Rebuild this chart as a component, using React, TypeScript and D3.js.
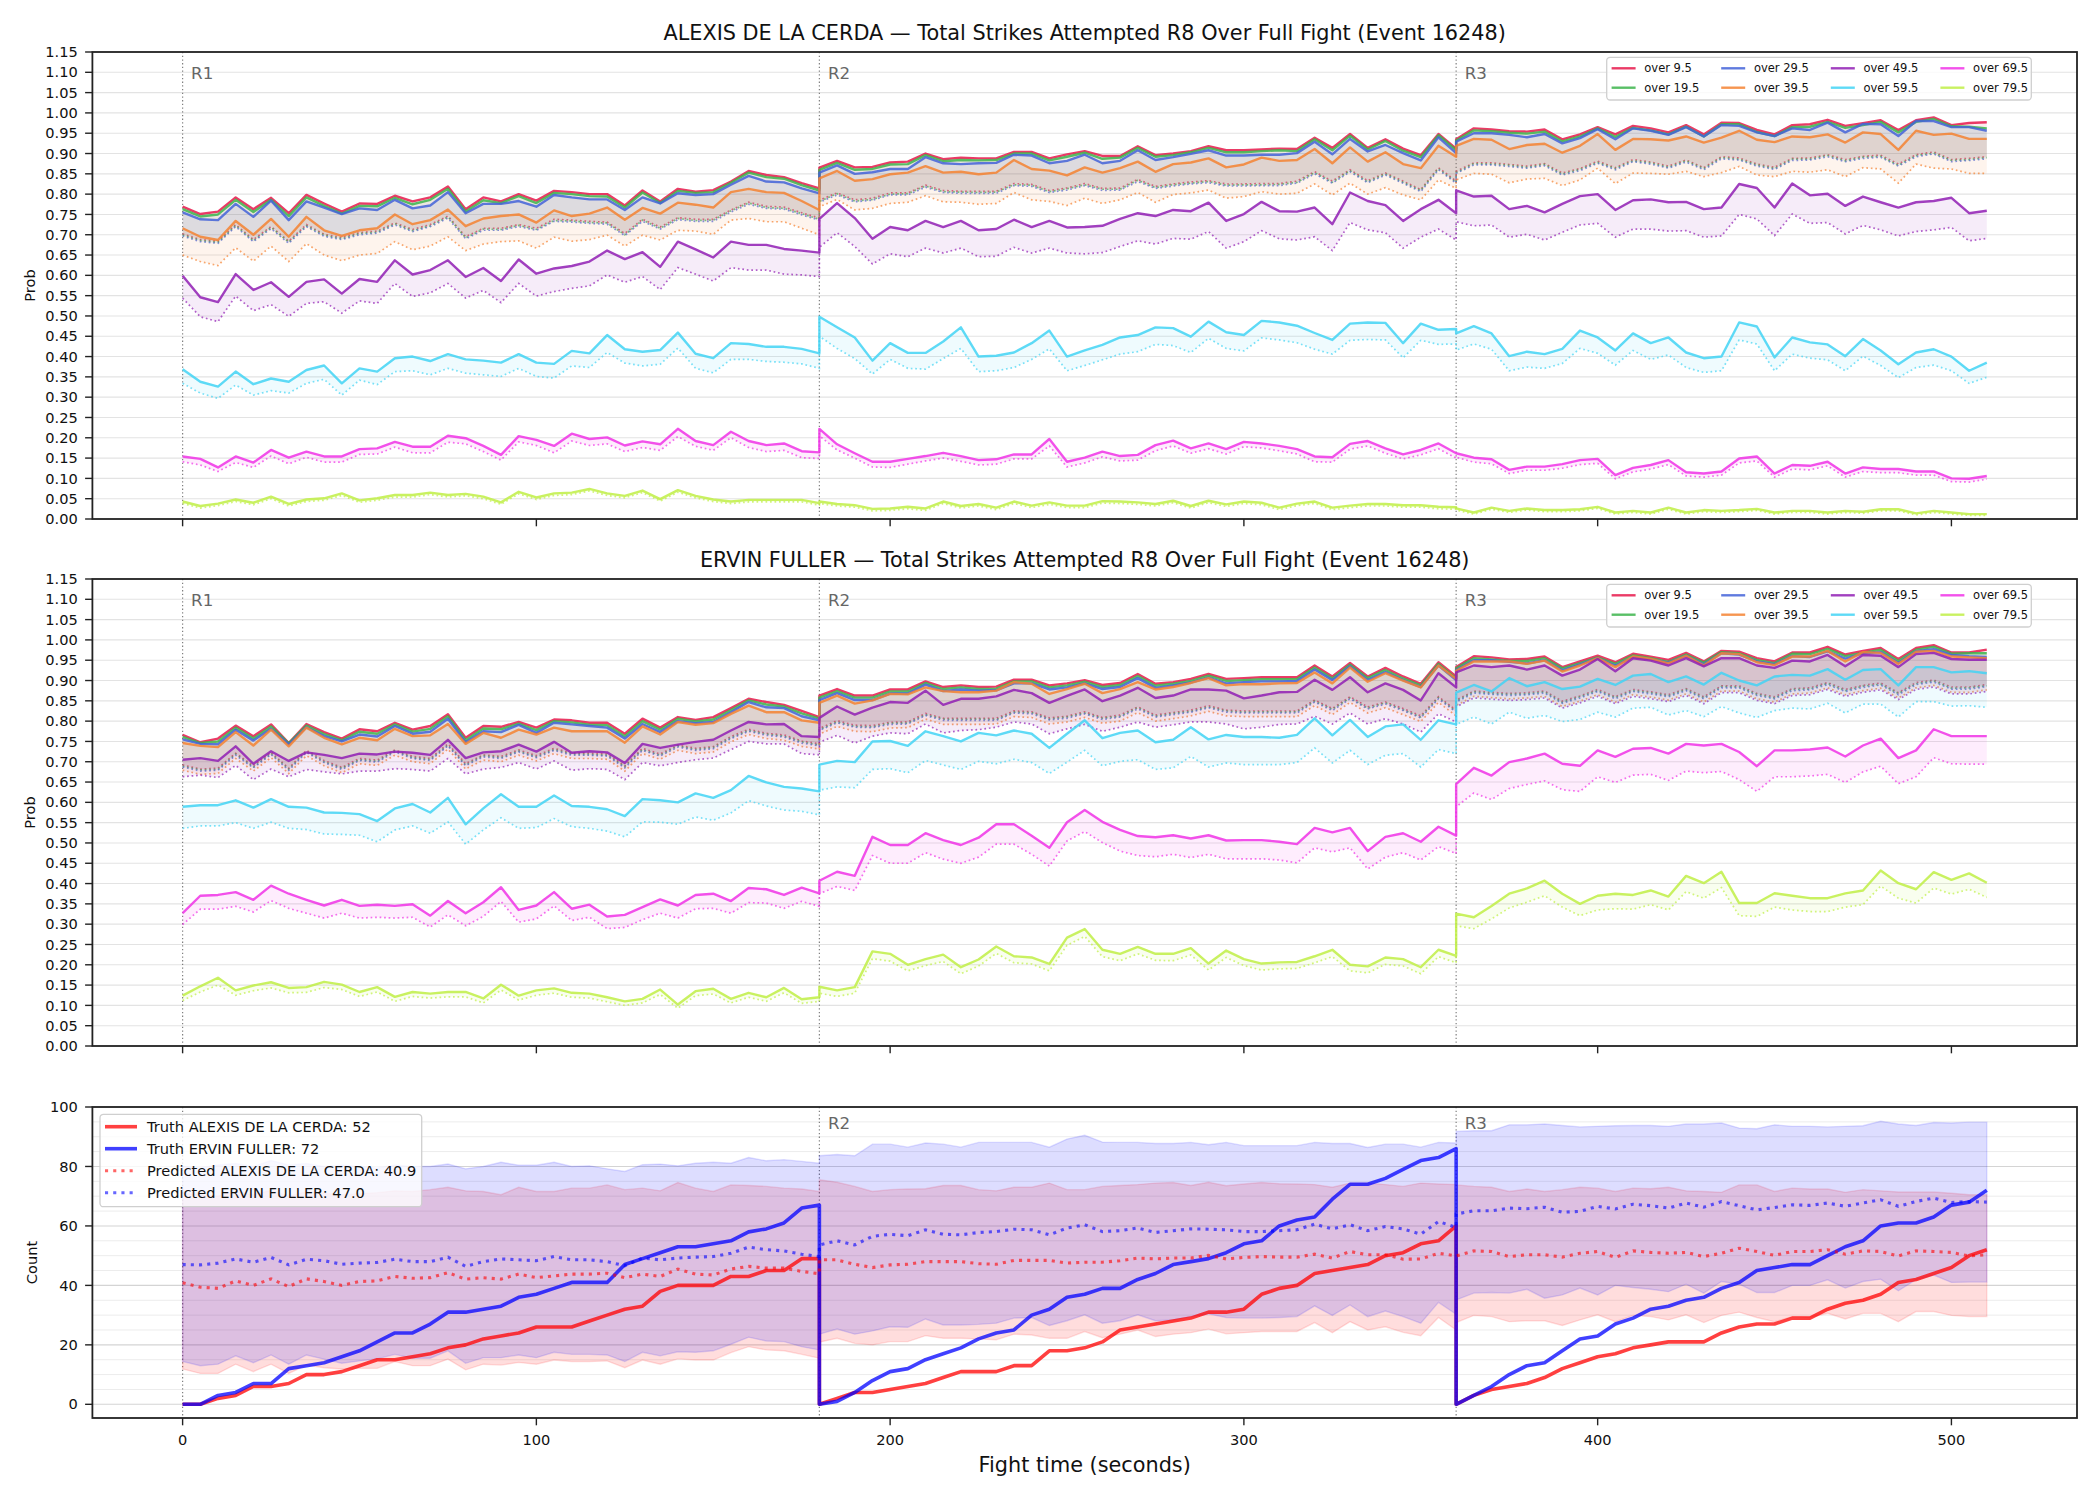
import React from 'react';
import * as d3 from 'd3';

// ---- time grid: three rounds sampled every 5 s (round boundaries repeat) ----
const roundStarts = [0, 180, 360];
const roundEnds = [180, 360, 510];
const roundNames = ['R1', 'R2', 'R3'];
const sampleStep = 5;
const times = roundStarts.flatMap((s, i) => d3.range(s, roundEnds[i] + 1, sampleStep));

const lineLabels = ['over 9.5', 'over 19.5', 'over 29.5', 'over 39.5', 'over 49.5', 'over 59.5', 'over 69.5', 'over 79.5'];
const lineColors = ['#e6194b', '#3cb44b', '#4363d8', '#f58231', '#911eb4', '#42d4f4', '#f032e6', '#bfef45'];

const probTicks = d3.range(24).map((i) => +(i * 0.05).toFixed(2));
const timeTicks = [0, 100, 200, 300, 400, 500];
const countTicks = [0, 20, 40, 60, 80, 100];
const countMinorTicks = d3.range(0, 101, 5);

// ---- ALEXIS DE LA CERDA: probability (%) of going over each line, and lower band ----
const alexisOver9 = [
  76.9, 75.1, 75.7, 79.2, 76.3, 79.1, 75.3, 79.8, 77.7, 75.7, 77.7, 77.6, 79.6, 78.2, 79.2, 81.9, 76.3, 79.2, 78.2, 80.0, 78.4, 80.8, 80.5, 80.0, 80.0, 77.2, 80.9, 78.2, 81.3, 80.6, 81.0, 83.1, 85.7, 84.7, 84.2, 82.7, 81.4,
  86.5, 88.2, 86.6, 86.7, 87.8, 88.0, 90.0, 88.6, 89.0, 88.8, 88.8, 90.4, 90.4, 88.8, 89.8, 90.6, 89.4, 89.4, 91.8, 89.6, 90.0, 90.6, 91.8, 90.8, 90.8, 91.0, 91.2, 91.1, 93.9, 91.4, 94.8, 91.4, 93.5, 91.2, 89.6, 94.8, 91.2,
  93.5, 96.2, 95.9, 95.5, 95.4, 95.9, 93.5, 94.7, 96.5, 94.7, 96.8, 96.2, 95.2, 97.0, 94.7, 97.6, 97.5, 95.8, 94.7, 97.0, 97.2, 98.3, 96.8, 97.5, 98.2, 95.8, 98.2, 98.9, 97.0, 97.5, 97.7,
];
const alexisOver19 = [
  76.3, 74.5, 75.0, 78.6, 75.6, 78.6, 74.6, 79.2, 77.1, 75.2, 77.1, 77.0, 79.1, 77.5, 78.6, 81.3, 75.7, 78.5, 77.8, 79.5, 77.8, 80.3, 80.0, 79.5, 79.4, 76.7, 80.4, 77.8, 80.8, 80.3, 80.5, 82.8, 85.3, 84.2, 83.8, 82.2, 80.9,
  86.0, 87.7, 86.0, 86.2, 87.3, 87.4, 89.6, 88.1, 88.4, 88.3, 88.4, 90.0, 90.0, 88.3, 89.2, 90.2, 88.7, 89.0, 91.4, 89.2, 89.6, 90.3, 91.4, 90.3, 90.3, 90.6, 90.8, 90.6, 93.5, 90.8, 94.4, 91.0, 93.1, 90.7, 89.1, 94.5, 90.8,
  93.2, 95.7, 95.5, 95.1, 94.9, 95.4, 93.0, 94.2, 96.2, 94.1, 96.3, 95.7, 94.7, 96.6, 94.2, 97.2, 97.2, 95.3, 94.3, 96.5, 96.6, 97.8, 96.3, 97.0, 97.8, 95.2, 97.8, 98.5, 96.7, 96.6, 96.2,
];
const alexisOver29 = [
  75.5, 73.8, 73.6, 77.6, 74.4, 78.4, 73.6, 78.2, 76.7, 75.1, 76.5, 76.1, 78.6, 76.5, 77.2, 80.5, 75.3, 77.6, 77.6, 78.3, 76.9, 79.8, 79.2, 78.7, 78.7, 76.1, 79.2, 77.7, 80.2, 79.8, 80.0, 82.3, 84.5, 83.1, 82.9, 81.4, 80.2,
  85.3, 87.1, 85.0, 85.4, 86.2, 86.2, 89.1, 87.6, 87.4, 87.6, 87.7, 89.7, 89.5, 87.6, 88.2, 89.7, 87.6, 88.2, 90.8, 88.4, 89.1, 89.9, 90.8, 89.5, 89.5, 89.7, 89.7, 90.1, 92.9, 89.8, 93.6, 90.5, 92.1, 90.1, 88.3, 94.0, 90.1,
  92.9, 95.0, 95.0, 94.6, 94.0, 94.8, 92.5, 93.8, 96.0, 93.5, 96.2, 95.6, 94.6, 96.5, 94.2, 97.0, 96.8, 95.2, 94.3, 96.2, 95.8, 97.6, 95.2, 97.3, 97.2, 94.3, 98.0, 98.0, 96.5, 96.5, 95.6,
];
const alexisOver39 = [
  71.6, 69.5, 68.7, 73.4, 70.0, 73.9, 69.5, 74.4, 71.1, 69.7, 71.1, 71.6, 75.0, 72.6, 73.6, 76.2, 72.1, 74.0, 74.6, 75.0, 73.0, 76.0, 74.6, 75.2, 76.7, 73.7, 76.6, 75.2, 77.9, 77.4, 76.7, 80.5, 81.3, 80.5, 80.3, 78.3, 76.1,
  83.9, 85.7, 83.3, 83.7, 84.9, 85.3, 86.9, 85.3, 85.5, 84.9, 85.3, 88.4, 86.2, 85.8, 84.6, 86.6, 85.3, 86.4, 88.0, 85.5, 87.4, 87.8, 88.8, 86.6, 87.3, 89.0, 88.2, 88.4, 91.1, 87.6, 91.5, 88.0, 90.3, 87.4, 86.4, 91.9, 89.2,
  91.9, 93.6, 93.4, 91.1, 92.1, 92.4, 90.2, 91.9, 94.8, 90.9, 93.6, 93.5, 93.2, 94.2, 92.7, 93.9, 95.6, 93.4, 92.8, 94.2, 94.0, 94.7, 92.7, 95.2, 94.8, 90.9, 95.6, 94.6, 94.9, 93.6, 93.6,
];
const alexisOver49 = [
  59.9, 54.6, 53.4, 60.3, 56.4, 58.3, 54.7, 58.4, 59.0, 55.5, 59.1, 58.4, 63.7, 60.2, 61.3, 63.7, 59.6, 61.8, 58.6, 63.9, 60.4, 61.7, 62.3, 63.4, 66.1, 64.0, 65.7, 62.1, 68.3, 66.4, 64.4, 68.3, 67.5, 67.5, 66.5, 66.1, 65.6,
  73.9, 77.8, 74.1, 69.0, 71.9, 71.1, 73.4, 71.9, 73.4, 71.1, 71.4, 73.7, 71.9, 73.4, 71.8, 71.9, 72.2, 73.9, 75.3, 74.6, 76.1, 75.8, 77.9, 73.4, 75.1, 78.1, 75.8, 75.7, 76.7, 72.6, 80.4, 78.3, 77.3, 73.4, 76.3, 78.6, 75.3,
  80.9, 79.4, 79.6, 76.3, 77.1, 75.5, 77.6, 79.5, 80.0, 76.1, 78.5, 78.7, 78.0, 78.1, 76.3, 76.7, 82.5, 81.5, 76.7, 82.6, 79.7, 80.1, 77.1, 79.4, 78.0, 76.7, 78.0, 78.3, 79.1, 75.3, 75.9,
];
const alexisOver59 = [
  36.9, 33.8, 32.6, 36.3, 33.2, 34.6, 33.8, 36.7, 37.8, 33.4, 37.1, 36.3, 39.6, 40.0, 38.9, 40.6, 39.3, 39.0, 38.5, 40.6, 38.5, 38.2, 41.4, 40.8, 45.3, 41.8, 41.2, 41.6, 45.9, 40.7, 39.6, 43.3, 43.1, 42.4, 42.4, 41.9, 40.8,
  49.8, 47.2, 44.7, 39.0, 43.3, 40.9, 40.9, 43.7, 47.2, 40.0, 40.2, 41.0, 43.3, 46.4, 40.0, 41.5, 42.9, 44.7, 45.3, 47.2, 47.0, 44.9, 48.6, 46.0, 45.3, 48.8, 48.4, 47.6, 45.8, 44.1, 48.1, 48.4, 48.3, 43.3, 48.1, 46.6, 46.8,
  45.7, 47.5, 45.7, 40.1, 41.2, 40.6, 41.9, 46.4, 44.7, 41.5, 45.7, 43.3, 44.7, 41.0, 39.6, 40.0, 48.4, 47.4, 39.8, 44.7, 43.5, 43.0, 40.1, 44.3, 41.5, 38.1, 41.0, 41.8, 40.0, 36.5, 38.5,
];
const alexisOver69 = [
  15.4, 14.8, 12.7, 15.4, 13.9, 17.0, 15.1, 16.6, 15.4, 15.4, 17.2, 17.4, 19.0, 17.8, 17.8, 20.5, 19.9, 18.0, 15.8, 20.4, 19.5, 18.0, 21.0, 19.7, 20.1, 18.1, 19.1, 18.4, 22.2, 19.2, 18.2, 21.5, 19.2, 18.2, 18.6, 16.7, 16.4,
  22.2, 18.4, 16.2, 14.1, 14.1, 14.8, 15.5, 16.3, 15.5, 14.5, 14.7, 15.9, 15.9, 19.7, 14.1, 15.1, 16.6, 15.5, 15.8, 18.2, 19.3, 17.4, 18.6, 17.2, 19.0, 18.6, 18.0, 17.2, 15.4, 15.2, 18.5, 19.2, 17.4, 15.9, 17.0, 18.6, 16.2,
  16.2, 15.1, 14.7, 12.1, 12.9, 12.9, 13.5, 14.5, 14.8, 10.8, 12.6, 13.3, 14.5, 11.5, 11.2, 11.7, 14.9, 15.4, 11.2, 13.3, 13.1, 14.1, 11.2, 12.7, 12.3, 12.3, 11.7, 11.7, 10.0, 9.9, 10.6,
];
const alexisOver79 = [
  4.3, 3.2, 3.8, 4.8, 4.0, 5.5, 3.7, 4.8, 5.1, 6.3, 4.6, 5.1, 5.9, 5.9, 6.5, 5.9, 6.2, 5.5, 4.1, 6.7, 5.3, 6.3, 6.5, 7.4, 6.3, 5.7, 7.0, 4.9, 7.1, 5.7, 4.8, 4.3, 4.7, 4.7, 4.7, 4.7, 3.9,
  4.3, 3.7, 3.4, 2.5, 2.6, 3.0, 2.6, 4.3, 3.2, 3.7, 2.8, 4.3, 3.3, 4.1, 3.3, 3.3, 4.4, 4.3, 4.1, 3.7, 4.5, 3.2, 4.5, 3.6, 4.3, 4.0, 2.8, 3.8, 4.3, 2.8, 3.3, 3.7, 3.7, 3.4, 3.4, 3.0, 2.9,
  2.6, 1.6, 2.8, 2.0, 2.6, 2.2, 2.2, 2.4, 3.0, 1.6, 2.0, 1.6, 2.8, 1.6, 2.2, 2.0, 2.2, 2.5, 1.6, 2.0, 2.0, 1.6, 2.0, 1.8, 2.4, 2.4, 1.4, 2.0, 1.6, 1.2, 1.2,
];

const alexisOver9Low = [
  70.2, 68.8, 68.4, 72.5, 68.8, 72.0, 68.4, 72.5, 70.1, 69.3, 70.5, 70.9, 72.9, 71.3, 72.5, 74.6, 69.5, 71.6, 71.6, 72.5, 71.6, 73.8, 73.6, 73.3, 73.1, 70.3, 73.8, 71.9, 74.2, 73.8, 73.8, 76.1, 78.0, 77.0, 76.8, 75.4, 74.1,
  78.5, 80.3, 78.6, 79.0, 80.3, 80.3, 82.2, 80.9, 80.7, 80.7, 80.7, 82.6, 82.4, 80.9, 81.5, 82.6, 81.4, 81.5, 83.6, 81.9, 82.5, 83.0, 83.3, 82.5, 82.5, 82.6, 82.6, 83.2, 85.5, 83.2, 86.0, 83.3, 85.2, 83.2, 81.1, 86.5, 83.2,
  85.6, 87.7, 87.7, 87.3, 86.9, 87.5, 85.2, 86.3, 88.1, 86.5, 88.5, 87.9, 86.9, 88.4, 86.5, 89.2, 88.9, 87.4, 86.6, 88.8, 88.9, 89.7, 88.5, 89.3, 89.6, 87.4, 89.7, 90.4, 88.5, 88.8, 89.2,
];
const alexisOver19Low = [
  69.9, 68.6, 68.1, 72.3, 68.5, 71.8, 68.2, 72.2, 69.9, 69.0, 70.3, 70.6, 72.7, 71.0, 72.2, 74.4, 69.2, 71.4, 71.3, 72.3, 71.3, 73.5, 73.4, 73.0, 72.9, 70.0, 73.6, 71.6, 74.0, 73.5, 73.6, 75.9, 77.8, 76.7, 76.5, 75.2, 73.8,
  78.2, 80.1, 78.3, 78.7, 80.0, 80.1, 82.0, 80.6, 80.5, 80.4, 80.5, 82.3, 82.2, 80.6, 81.3, 82.3, 81.2, 81.2, 83.4, 81.6, 82.3, 82.7, 83.1, 82.2, 82.3, 82.3, 82.4, 82.9, 85.3, 82.9, 85.8, 83.0, 85.0, 82.9, 80.9, 86.3, 82.9,
  85.3, 87.5, 87.4, 87.1, 86.6, 87.3, 84.9, 86.1, 87.8, 86.3, 88.2, 87.7, 86.6, 88.2, 86.3, 89.0, 88.6, 87.2, 86.3, 88.6, 88.6, 89.5, 88.2, 89.1, 89.3, 87.1, 89.5, 90.1, 88.3, 88.5, 89.0,
];
const alexisOver29Low = [
  69.7, 68.3, 67.9, 72.0, 68.3, 71.5, 67.9, 72.0, 69.6, 68.8, 70.0, 70.4, 72.4, 70.8, 72.0, 74.1, 69.0, 71.1, 71.1, 72.0, 71.1, 73.3, 73.1, 72.8, 72.6, 69.8, 73.3, 71.4, 73.7, 73.3, 73.3, 75.6, 77.5, 76.5, 76.3, 74.9, 73.6,
  78.0, 79.8, 78.1, 78.5, 79.8, 79.8, 81.7, 80.4, 80.2, 80.2, 80.2, 82.1, 81.9, 80.4, 81.0, 82.1, 80.9, 81.0, 83.1, 81.4, 82.0, 82.5, 82.8, 82.0, 82.0, 82.1, 82.1, 82.7, 85.0, 82.7, 85.5, 82.8, 84.7, 82.7, 80.6, 86.0, 82.7,
  85.1, 87.2, 87.2, 86.8, 86.4, 87.0, 84.7, 85.8, 87.6, 86.0, 88.0, 87.4, 86.4, 87.9, 86.0, 88.7, 88.4, 86.9, 86.1, 88.3, 88.4, 89.2, 88.0, 88.8, 89.1, 86.9, 89.2, 89.9, 88.0, 88.3, 88.7,
];
const alexisOver39Low = [
  65.0, 63.4, 62.4, 66.8, 63.5, 67.2, 63.4, 67.8, 65.0, 63.6, 65.0, 65.4, 68.3, 66.3, 67.2, 69.5, 66.1, 67.7, 68.3, 68.5, 66.7, 69.4, 68.4, 68.8, 69.9, 67.2, 69.9, 68.7, 71.1, 70.9, 70.1, 73.6, 74.0, 73.2, 73.2, 71.6, 70.0,
  76.9, 78.7, 76.1, 76.5, 77.7, 78.0, 79.6, 78.1, 78.0, 77.5, 77.7, 80.4, 78.6, 78.2, 77.2, 79.0, 77.7, 78.6, 80.4, 78.0, 79.9, 80.3, 81.0, 79.0, 79.4, 80.6, 80.0, 80.2, 82.5, 79.8, 82.7, 80.0, 81.6, 79.8, 78.6, 83.5, 81.4,
  83.5, 85.1, 84.9, 82.8, 83.7, 83.9, 82.1, 83.5, 86.4, 82.6, 85.2, 85.1, 84.9, 85.6, 84.3, 85.3, 86.8, 84.7, 84.3, 85.6, 85.4, 86.0, 84.3, 86.5, 86.2, 82.7, 87.4, 86.4, 86.2, 85.1, 85.1,
];
const alexisOver49Low = [
  54.4, 49.8, 48.6, 54.9, 51.3, 52.8, 49.9, 53.1, 53.5, 50.7, 53.7, 53.1, 58.0, 54.8, 55.7, 58.0, 54.4, 56.3, 53.3, 58.0, 54.9, 56.0, 56.8, 57.4, 60.1, 58.3, 59.7, 56.5, 61.9, 60.3, 58.6, 61.9, 61.3, 61.3, 60.3, 60.1, 59.7,
  66.9, 70.5, 67.1, 62.8, 65.3, 64.6, 66.7, 65.5, 66.7, 64.6, 64.7, 66.9, 65.5, 66.7, 65.5, 65.3, 65.6, 67.1, 68.5, 67.7, 69.1, 68.9, 70.8, 66.7, 68.3, 71.0, 69.0, 68.7, 69.5, 66.1, 73.0, 71.2, 70.5, 66.7, 69.4, 71.4, 68.7,
  73.2, 72.2, 72.4, 69.4, 70.1, 68.7, 70.6, 72.4, 72.8, 69.4, 71.4, 71.4, 70.9, 71.0, 69.4, 69.7, 75.0, 73.9, 69.8, 75.1, 72.8, 73.0, 70.2, 72.3, 71.2, 69.7, 70.8, 71.2, 71.8, 68.5, 69.1,
];
const alexisOver59Low = [
  33.4, 31.0, 29.7, 33.0, 30.5, 31.6, 31.0, 33.4, 34.4, 30.5, 34.2, 33.1, 36.3, 36.5, 35.5, 37.1, 35.9, 35.5, 35.1, 37.1, 35.1, 34.7, 37.7, 37.3, 41.0, 38.4, 37.7, 38.1, 42.1, 37.1, 36.0, 39.3, 39.3, 38.8, 38.6, 38.2, 37.1,
  45.0, 42.0, 39.5, 35.7, 39.3, 37.1, 36.9, 39.5, 42.0, 36.3, 36.5, 37.3, 39.3, 41.9, 36.5, 37.8, 39.2, 40.6, 41.2, 43.0, 42.7, 41.0, 44.5, 42.0, 41.4, 44.6, 44.1, 43.4, 41.8, 40.6, 44.0, 44.2, 44.1, 39.7, 44.0, 43.0, 43.1,
  41.6, 43.1, 41.8, 36.5, 37.4, 37.1, 38.3, 42.0, 40.8, 37.9, 41.5, 39.3, 40.4, 37.3, 36.1, 36.5, 44.1, 43.1, 36.5, 40.6, 39.6, 39.2, 36.5, 40.1, 37.8, 34.8, 37.3, 37.9, 36.5, 33.4, 34.9,
];
const alexisOver69Low = [
  14.1, 13.3, 11.7, 13.9, 12.7, 15.5, 13.6, 15.2, 14.0, 14.0, 15.9, 16.0, 17.7, 16.3, 16.3, 18.9, 18.5, 16.6, 14.5, 19.0, 18.1, 16.3, 19.2, 18.1, 18.5, 16.6, 17.6, 16.9, 20.3, 17.9, 16.9, 20.0, 17.6, 16.6, 16.9, 15.1, 14.9,
  20.5, 17.0, 15.0, 12.8, 12.7, 13.5, 14.3, 15.0, 14.2, 13.3, 13.5, 14.8, 14.8, 18.0, 12.8, 13.8, 15.3, 14.3, 14.5, 16.8, 18.0, 16.2, 17.3, 16.0, 17.8, 17.5, 16.8, 16.0, 14.1, 14.0, 17.2, 18.0, 16.2, 14.8, 15.8, 17.3, 15.0,
  15.2, 14.0, 13.6, 11.2, 12.0, 12.0, 12.5, 13.4, 13.7, 9.9, 11.6, 12.3, 13.4, 10.6, 10.3, 10.8, 13.8, 14.3, 10.3, 12.3, 12.1, 13.1, 10.3, 11.7, 11.4, 11.4, 10.8, 10.8, 9.2, 9.1, 9.8,
];
const alexisOver79Low = [
  3.8, 2.7, 3.3, 4.3, 3.5, 5.0, 3.2, 4.3, 4.6, 5.8, 4.1, 4.6, 5.4, 5.4, 6.0, 5.4, 5.7, 5.0, 3.6, 6.2, 4.8, 5.8, 6.0, 6.9, 5.8, 5.2, 6.5, 4.4, 6.6, 5.2, 4.3, 3.8, 4.2, 4.2, 4.2, 4.2, 3.4,
  3.8, 3.2, 2.9, 2.0, 2.1, 2.5, 2.1, 3.8, 2.7, 3.2, 2.3, 3.8, 2.8, 3.6, 2.8, 2.8, 3.9, 3.8, 3.6, 3.2, 4.0, 2.7, 4.0, 3.1, 3.8, 3.5, 2.3, 3.3, 3.8, 2.3, 2.8, 3.2, 3.2, 2.9, 2.9, 2.5, 2.4,
  2.2, 1.2, 2.4, 1.6, 2.2, 1.8, 1.8, 2.0, 2.6, 1.2, 1.6, 1.2, 2.4, 1.2, 1.8, 1.6, 1.8, 2.1, 1.2, 1.6, 1.6, 1.2, 1.6, 1.4, 2.0, 2.0, 1.0, 1.6, 1.2, 0.9, 0.9,
];

// ---- ERVIN FULLER ----
const ervinOver9 = [
  76.6, 74.8, 75.7, 78.9, 76.3, 79.2, 74.6, 79.3, 77.3, 75.7, 78.0, 77.5, 79.6, 77.9, 78.8, 81.7, 75.9, 78.8, 78.6, 79.8, 78.4, 80.4, 80.2, 79.6, 79.6, 76.9, 80.6, 78.4, 81.0, 80.3, 81.0, 83.2, 85.5, 84.7, 84.0, 82.5, 81.0,
  86.3, 87.9, 86.3, 86.3, 87.8, 87.8, 89.8, 88.4, 88.8, 88.4, 88.5, 90.2, 90.2, 88.8, 89.3, 90.1, 88.9, 89.4, 91.6, 89.2, 89.6, 90.4, 91.6, 90.4, 90.6, 90.8, 90.8, 90.8, 93.7, 91.0, 94.3, 91.0, 93.1, 91.0, 89.2, 94.5, 91.0,
  93.3, 96.0, 95.7, 95.2, 95.3, 95.9, 93.3, 94.7, 96.1, 94.5, 96.6, 95.9, 95.1, 96.8, 94.7, 97.3, 97.1, 95.5, 94.7, 96.9, 96.9, 98.3, 96.4, 97.3, 98.0, 95.3, 98.0, 98.7, 96.9, 96.9, 97.6,
];
const ervinOver19 = [
  76.1, 74.6, 75.0, 78.4, 75.7, 78.7, 74.5, 78.9, 76.8, 75.3, 77.4, 76.9, 79.2, 77.4, 78.1, 81.2, 75.3, 78.2, 78.0, 79.4, 77.8, 80.0, 79.7, 79.1, 79.0, 76.3, 80.0, 77.9, 80.6, 79.9, 80.4, 82.7, 85.1, 84.1, 83.6, 81.9, 80.6,
  85.8, 87.4, 85.8, 85.8, 87.3, 87.3, 89.4, 87.9, 88.3, 87.9, 88.0, 89.8, 89.8, 88.3, 88.8, 89.7, 88.4, 88.9, 91.1, 88.7, 89.2, 89.9, 91.2, 89.9, 90.1, 90.3, 90.3, 90.4, 93.2, 90.5, 93.9, 90.6, 92.6, 90.5, 88.8, 94.1, 90.5,
  93.0, 95.5, 95.2, 94.8, 94.8, 95.5, 93.0, 94.3, 95.7, 94.1, 96.2, 95.5, 94.6, 96.4, 94.4, 97.0, 96.7, 95.1, 94.3, 96.6, 96.5, 97.8, 96.0, 96.8, 97.6, 94.8, 97.6, 98.3, 96.6, 96.7, 96.7,
];
const ervinOver29 = [
  75.5, 74.4, 74.3, 77.9, 75.2, 78.1, 74.3, 78.5, 76.3, 75.0, 76.7, 76.2, 78.8, 76.9, 77.4, 80.6, 74.8, 77.5, 77.3, 79.1, 77.1, 79.6, 79.2, 78.8, 78.4, 75.7, 79.3, 77.3, 80.0, 79.5, 79.8, 82.2, 84.7, 83.4, 83.2, 81.2, 80.2,
  85.2, 86.9, 85.2, 85.2, 86.8, 86.8, 89.0, 87.4, 87.8, 87.5, 87.6, 89.3, 89.3, 87.8, 88.3, 89.3, 87.9, 88.4, 90.6, 88.2, 88.8, 89.5, 90.7, 89.3, 89.6, 89.8, 89.8, 89.9, 92.7, 90.1, 93.5, 90.1, 92.1, 90.1, 88.4, 93.7, 90.1,
  92.6, 95.0, 95.0, 94.6, 94.2, 95.0, 92.5, 94.0, 95.5, 93.7, 95.8, 95.2, 94.4, 96.1, 94.0, 96.7, 96.4, 94.7, 94.0, 96.0, 95.8, 97.2, 95.4, 96.7, 97.0, 94.3, 97.2, 97.7, 96.3, 96.0, 95.8,
];
const ervinOver39 = [
  74.6, 73.9, 73.6, 77.3, 74.0, 77.9, 73.8, 78.4, 75.9, 74.3, 75.9, 75.3, 78.1, 76.3, 76.5, 79.3, 74.4, 77.1, 75.9, 77.9, 76.7, 78.4, 77.5, 77.5, 77.5, 74.7, 78.7, 76.7, 79.8, 79.1, 79.5, 81.8, 83.8, 82.2, 82.2, 80.2, 79.6,
  84.5, 86.3, 84.3, 85.1, 86.7, 86.6, 88.3, 87.4, 87.1, 87.1, 87.5, 89.6, 89.2, 86.7, 87.9, 89.2, 86.9, 87.9, 89.6, 87.8, 88.4, 89.4, 90.6, 88.8, 89.1, 89.1, 89.3, 89.4, 92.0, 89.3, 93.2, 89.7, 91.8, 90.0, 88.3, 93.7, 90.4,
  92.4, 94.7, 94.7, 94.7, 94.1, 94.9, 92.2, 93.7, 95.5, 93.3, 95.9, 95.3, 94.2, 96.1, 93.7, 96.7, 96.5, 94.5, 93.8, 95.9, 95.9, 97.3, 94.7, 97.0, 96.8, 94.1, 97.1, 97.3, 95.9, 95.7, 95.5,
];
const ervinOver49 = [
  70.5, 70.9, 70.2, 73.8, 69.5, 72.6, 70.2, 72.3, 71.7, 70.9, 72.0, 71.8, 72.5, 72.2, 71.7, 75.4, 70.9, 72.3, 72.6, 74.2, 72.5, 74.9, 72.2, 72.6, 72.3, 69.7, 74.4, 73.4, 74.2, 74.9, 75.4, 77.7, 79.8, 79.2, 79.3, 76.3, 76.1,
  80.8, 83.6, 81.6, 83.3, 84.7, 84.5, 87.5, 84.0, 85.5, 85.5, 86.1, 87.7, 86.9, 84.5, 86.2, 87.8, 84.9, 86.3, 88.2, 85.7, 86.3, 87.8, 87.8, 87.5, 85.6, 86.3, 87.1, 87.2, 90.2, 87.7, 90.8, 87.1, 89.3, 87.7, 85.1, 91.8, 88.3,
  92.0, 93.7, 93.3, 93.7, 92.7, 93.7, 91.2, 92.7, 95.3, 92.3, 95.5, 94.9, 93.7, 95.5, 93.5, 95.5, 95.5, 93.7, 93.1, 94.9, 94.7, 96.3, 93.5, 96.3, 96.1, 93.3, 96.5, 96.8, 95.3, 95.1, 95.1,
];
const ervinOver59 = [
  58.9, 59.3, 59.3, 60.5, 58.7, 60.8, 58.9, 58.7, 57.5, 57.4, 57.1, 55.4, 58.5, 59.6, 57.5, 61.1, 54.6, 58.5, 62.0, 58.9, 58.9, 61.7, 59.1, 58.9, 58.3, 56.6, 60.8, 60.5, 60.0, 62.2, 61.1, 63.0, 66.5, 64.9, 63.8, 63.4, 62.7,
  69.3, 70.2, 69.9, 75.0, 75.1, 73.9, 77.5, 76.3, 75.0, 77.1, 76.5, 77.7, 76.9, 73.4, 76.9, 80.2, 75.8, 77.1, 77.7, 74.8, 75.4, 78.5, 75.5, 76.6, 76.1, 76.1, 75.9, 76.6, 80.7, 76.5, 80.3, 76.1, 78.7, 79.2, 75.4, 80.2, 79.2,
  87.0, 88.9, 87.3, 90.6, 88.6, 89.6, 87.9, 88.5, 90.4, 88.9, 91.2, 91.6, 89.6, 91.0, 89.0, 91.9, 90.0, 88.8, 91.0, 91.4, 91.2, 92.8, 90.2, 92.6, 92.8, 88.8, 93.3, 93.3, 92.0, 92.3, 91.8,
];
const ervinOver69 = [
  32.7, 37.0, 37.2, 37.9, 36.0, 39.5, 37.5, 36.0, 34.6, 36.0, 34.5, 34.8, 34.5, 34.9, 32.1, 35.7, 32.7, 35.4, 39.1, 33.5, 34.6, 37.9, 33.8, 34.8, 31.9, 32.3, 34.2, 36.1, 34.6, 37.2, 37.5, 35.7, 38.9, 38.6, 37.2, 39.0, 37.6,
  40.7, 42.9, 41.9, 51.5, 49.5, 49.5, 52.4, 50.7, 49.5, 51.3, 54.6, 54.6, 51.8, 48.8, 55.1, 58.1, 55.2, 53.2, 51.7, 51.4, 51.9, 51.1, 51.9, 50.6, 50.7, 50.7, 50.3, 49.7, 53.7, 52.6, 53.7, 48.0, 51.5, 52.4, 50.3, 54.0, 51.8,
  64.5, 68.5, 66.6, 69.9, 70.8, 72.0, 69.5, 69.0, 72.8, 71.2, 73.2, 73.4, 72.0, 74.4, 74.0, 74.4, 72.4, 68.9, 72.8, 72.8, 73.0, 73.5, 71.3, 74.0, 75.7, 70.9, 72.8, 78.0, 76.3, 76.3, 76.3,
];
const ervinOver79 = [
  12.4, 14.7, 16.8, 13.7, 14.9, 15.7, 14.3, 14.5, 15.8, 15.1, 13.3, 14.5, 12.1, 13.3, 12.9, 13.3, 13.3, 11.7, 15.1, 12.4, 13.7, 14.2, 13.1, 12.9, 12.0, 11.0, 11.6, 13.9, 10.2, 13.5, 14.1, 11.6, 13.1, 12.0, 14.3, 11.5, 12.0,
  14.6, 13.7, 14.5, 23.3, 22.7, 20.0, 21.4, 22.5, 19.4, 21.3, 24.5, 22.1, 21.8, 20.2, 26.7, 28.8, 23.7, 22.7, 24.4, 22.7, 22.7, 24.1, 20.3, 23.5, 21.4, 20.3, 20.6, 20.7, 22.1, 23.7, 20.0, 19.6, 21.8, 21.4, 19.4, 23.7, 22.2,
  32.6, 31.7, 34.5, 37.5, 38.8, 40.7, 37.5, 35.0, 37.0, 37.5, 37.2, 38.3, 36.8, 41.9, 40.1, 42.9, 35.2, 35.2, 37.6, 37.0, 36.4, 36.4, 37.6, 38.3, 43.2, 40.1, 38.6, 42.8, 40.9, 42.5, 40.2,
];

const ervinOver9Low = [
  69.2, 68.2, 68.4, 72.1, 69.0, 72.3, 68.4, 72.8, 70.3, 68.6, 70.8, 70.4, 72.9, 71.3, 70.8, 74.4, 69.5, 71.7, 71.3, 72.9, 71.5, 73.3, 72.1, 72.1, 71.9, 69.0, 73.3, 71.9, 74.1, 73.3, 73.7, 76.2, 78.0, 77.0, 76.6, 75.1, 74.4,
  78.2, 80.1, 79.0, 78.9, 79.7, 79.8, 81.9, 80.7, 80.7, 80.7, 80.7, 82.5, 82.3, 80.8, 81.2, 82.3, 80.9, 81.5, 83.5, 81.5, 82.1, 82.7, 83.8, 82.7, 82.5, 82.5, 82.5, 82.5, 85.2, 83.1, 86.0, 83.5, 84.7, 83.1, 81.3, 86.0, 82.7,
  85.2, 87.4, 87.1, 86.8, 87.0, 87.4, 84.9, 86.2, 87.8, 86.0, 87.8, 87.2, 86.5, 88.0, 86.0, 88.7, 88.7, 86.8, 86.0, 88.0, 88.2, 89.5, 87.8, 88.8, 89.4, 87.0, 89.5, 90.1, 88.4, 88.4, 89.0,
];
const ervinOver19Low = [
  68.9, 68.0, 68.1, 71.9, 68.7, 72.0, 68.2, 72.5, 70.0, 68.4, 70.5, 70.1, 72.7, 71.0, 70.5, 74.1, 69.2, 71.5, 71.0, 72.6, 71.2, 73.0, 71.9, 71.8, 71.6, 68.8, 73.0, 71.6, 73.9, 73.0, 73.5, 75.9, 77.7, 76.8, 76.3, 74.9, 74.1,
  77.9, 79.8, 78.7, 78.6, 79.5, 79.5, 81.6, 80.5, 80.4, 80.5, 80.4, 82.2, 82.1, 80.5, 81.0, 82.0, 80.7, 81.2, 83.3, 81.2, 81.9, 82.4, 83.5, 82.5, 82.2, 82.3, 82.2, 82.3, 84.9, 82.9, 85.7, 83.2, 84.5, 82.8, 81.0, 85.8, 82.4,
  84.9, 87.2, 86.8, 86.6, 86.7, 87.2, 84.6, 86.0, 87.5, 85.8, 87.5, 87.0, 86.2, 87.8, 85.7, 88.5, 88.4, 86.6, 85.7, 87.8, 87.9, 89.3, 87.5, 88.6, 89.1, 86.8, 89.2, 89.9, 88.1, 88.2, 88.7,
];
const ervinOver29Low = [
  68.7, 67.7, 67.9, 71.6, 68.5, 71.8, 67.9, 72.3, 69.8, 68.1, 70.3, 69.9, 72.4, 70.8, 70.3, 73.9, 69.0, 71.2, 70.8, 72.4, 71.0, 72.8, 71.6, 71.6, 71.4, 68.5, 72.8, 71.4, 73.6, 72.8, 73.2, 75.7, 77.5, 76.5, 76.1, 74.6, 73.9,
  77.7, 79.6, 78.5, 78.4, 79.2, 79.3, 81.4, 80.2, 80.2, 80.2, 80.2, 82.0, 81.8, 80.3, 80.7, 81.8, 80.4, 81.0, 83.0, 81.0, 81.6, 82.2, 83.3, 82.2, 82.0, 82.0, 82.0, 82.0, 84.7, 82.6, 85.5, 83.0, 84.2, 82.6, 80.8, 85.5, 82.2,
  84.7, 86.9, 86.6, 86.3, 86.5, 86.9, 84.4, 85.7, 87.3, 85.5, 87.3, 86.7, 86.0, 87.5, 85.5, 88.2, 88.2, 86.3, 85.5, 87.5, 87.7, 89.0, 87.3, 88.3, 88.9, 86.5, 89.0, 89.6, 87.9, 87.9, 88.5,
];
const ervinOver39Low = [
  67.9, 66.9, 67.1, 70.8, 67.7, 71.0, 67.1, 71.5, 69.0, 67.3, 69.5, 69.1, 71.6, 70.0, 69.5, 73.1, 68.2, 70.4, 70.0, 71.6, 70.2, 72.0, 70.8, 70.8, 70.6, 67.7, 72.0, 70.6, 72.8, 72.0, 72.4, 74.9, 76.7, 75.7, 75.3, 73.8, 73.1,
  76.8, 78.7, 77.5, 77.4, 78.3, 78.4, 80.5, 79.2, 79.2, 79.2, 79.3, 81.1, 80.9, 79.3, 79.8, 80.9, 79.5, 80.0, 82.1, 80.0, 80.6, 81.3, 82.4, 81.3, 81.1, 81.1, 81.1, 81.1, 83.8, 81.6, 84.6, 82.0, 83.3, 81.6, 79.9, 84.6, 81.3,
  83.9, 86.1, 85.8, 85.5, 85.7, 86.1, 83.6, 84.9, 86.5, 84.7, 86.5, 85.9, 85.2, 86.7, 84.7, 87.4, 87.4, 85.5, 84.7, 86.7, 86.9, 88.2, 86.5, 87.5, 88.1, 85.7, 88.2, 88.8, 87.1, 87.1, 87.7,
];
const ervinOver49Low = [
  66.3, 66.7, 66.1, 69.1, 65.6, 68.2, 66.3, 68.1, 67.5, 67.0, 67.7, 67.7, 68.3, 68.1, 67.7, 70.8, 67.0, 68.2, 68.6, 69.8, 68.2, 70.2, 67.9, 68.3, 68.1, 65.6, 69.8, 69.0, 69.8, 70.5, 70.9, 73.0, 75.0, 74.4, 74.4, 72.0, 71.7,
  74.8, 76.5, 74.6, 76.3, 77.1, 76.9, 79.3, 77.1, 77.7, 77.9, 78.5, 79.8, 79.3, 76.9, 78.1, 79.2, 77.5, 78.5, 79.8, 78.5, 79.1, 79.8, 79.8, 79.3, 78.1, 78.5, 79.2, 79.3, 81.2, 79.3, 82.0, 79.3, 80.6, 79.3, 77.3, 81.8, 79.8,
  83.5, 85.7, 85.4, 85.1, 85.3, 85.7, 83.2, 84.5, 86.1, 84.3, 86.1, 85.5, 84.8, 86.3, 84.3, 87.0, 87.0, 85.1, 84.3, 86.3, 86.5, 87.8, 86.1, 87.1, 87.7, 85.3, 87.8, 88.4, 86.7, 86.7, 87.3,
];
const ervinOver59Low = [
  53.6, 54.2, 54.2, 55.0, 53.6, 55.1, 53.6, 53.3, 52.2, 52.1, 51.9, 50.3, 53.2, 54.2, 52.4, 55.2, 49.7, 53.2, 56.2, 53.6, 53.8, 56.0, 54.0, 53.6, 52.9, 51.5, 55.2, 55.1, 54.6, 56.4, 55.6, 57.4, 60.4, 59.1, 58.1, 57.8, 56.9,
  63.0, 63.8, 63.6, 68.1, 68.3, 67.3, 70.3, 69.2, 68.1, 70.1, 69.5, 70.6, 69.8, 67.1, 69.9, 72.8, 69.0, 70.1, 70.5, 68.1, 68.5, 71.3, 68.7, 69.7, 69.3, 69.3, 69.3, 69.8, 73.4, 69.7, 72.8, 69.3, 71.6, 72.0, 68.7, 73.0, 72.0,
  79.2, 81.0, 79.3, 82.2, 80.7, 81.4, 79.9, 80.4, 82.2, 81.0, 83.2, 83.4, 81.5, 82.6, 81.1, 83.6, 82.0, 80.9, 82.6, 83.2, 83.0, 84.4, 82.0, 84.2, 84.2, 81.0, 84.8, 84.8, 83.7, 83.8, 83.4,
];
const ervinOver69Low = [
  29.9, 33.7, 33.7, 34.4, 33.0, 35.8, 33.9, 32.7, 31.5, 32.7, 31.5, 31.7, 31.5, 31.7, 29.3, 32.3, 29.6, 31.9, 35.6, 30.5, 31.3, 34.5, 30.9, 31.7, 28.9, 29.2, 31.1, 32.7, 31.5, 33.8, 33.9, 32.7, 35.3, 35.2, 33.9, 35.6, 34.4,
  37.5, 39.3, 38.3, 46.9, 45.0, 45.0, 47.6, 46.0, 45.0, 46.5, 49.7, 49.7, 47.2, 44.3, 50.5, 52.8, 50.1, 48.0, 46.9, 46.6, 47.2, 46.4, 47.2, 46.1, 46.1, 46.1, 45.8, 45.1, 48.8, 47.8, 48.8, 43.6, 46.5, 47.6, 45.8, 49.1, 47.4,
  58.9, 62.3, 60.7, 63.4, 64.4, 65.3, 63.1, 62.7, 66.3, 64.9, 66.7, 66.9, 65.4, 67.7, 67.3, 67.6, 65.6, 62.7, 66.3, 66.3, 66.5, 66.9, 64.9, 67.5, 68.9, 64.6, 66.3, 71.0, 69.5, 69.4, 69.4,
];
const ervinOver79Low = [
  11.2, 13.3, 15.0, 12.5, 13.6, 14.3, 13.1, 13.2, 14.4, 13.9, 12.2, 13.3, 11.0, 12.2, 11.8, 12.1, 12.1, 10.6, 13.8, 11.3, 12.5, 13.0, 12.0, 11.8, 10.9, 10.0, 10.6, 12.7, 9.3, 12.4, 12.8, 10.6, 12.0, 11.0, 13.1, 10.5, 11.0,
  13.0, 12.2, 13.0, 21.5, 20.9, 18.5, 19.8, 20.8, 17.8, 19.7, 22.8, 20.5, 20.2, 18.5, 24.8, 27.0, 22.0, 21.0, 22.7, 21.1, 21.0, 22.4, 18.7, 21.8, 19.8, 18.7, 19.0, 19.1, 20.5, 22.0, 18.5, 18.0, 20.1, 19.7, 17.8, 22.0, 20.5,
  29.6, 28.9, 31.3, 34.0, 35.4, 37.0, 34.2, 32.1, 33.5, 33.8, 33.7, 34.8, 33.5, 38.0, 36.4, 39.0, 32.1, 31.9, 34.2, 33.5, 33.1, 33.1, 34.2, 34.8, 39.4, 36.4, 35.2, 38.9, 37.4, 38.6, 36.6,
];

// ---- cumulative strike counts per round ----
const truthAlexis = [
  0, 0, 2, 3, 6, 6, 7, 10, 10, 11, 13, 15, 15, 16, 17, 19, 20, 22, 23, 24, 26, 26, 26, 28, 30, 32, 33, 38, 40, 40, 40, 43, 43, 45, 45, 49, 49,
  0, 2, 4, 4, 5, 6, 7, 9, 11, 11, 11, 13, 13, 18, 18, 19, 21, 25, 26, 27, 28, 29, 31, 31, 32, 37, 39, 40, 44, 45, 46, 47, 50, 51, 54, 55, 60,
  0, 3, 5, 6, 7, 9, 12, 14, 16, 17, 19, 20, 21, 21, 21, 24, 26, 27, 27, 29, 29, 32, 34, 35, 37, 41, 42, 44, 46, 50, 52,
];
const truthErvin = [
  0, 0, 3, 4, 7, 7, 12, 13, 14, 16, 18, 21, 24, 24, 27, 31, 31, 32, 33, 36, 37, 39, 41, 41, 41, 47, 49, 51, 53, 53, 54, 55, 58, 59, 61, 66, 67,
  0, 1, 4, 8, 11, 12, 15, 17, 19, 22, 24, 25, 30, 32, 36, 37, 39, 39, 42, 44, 47, 48, 49, 51, 54, 55, 60, 62, 63, 69, 74, 74, 76, 79, 82, 83, 86,
  0, 3, 6, 10, 13, 14, 18, 22, 23, 27, 29, 32, 33, 35, 36, 39, 41, 45, 46, 47, 47, 50, 53, 55, 60, 61, 61, 63, 67, 68, 72,
];
const predAlexis = [
  40.9, 39.4, 39.0, 41.5, 40.0, 42.2, 39.6, 42.2, 41.3, 40.0, 41.3, 41.5, 43.0, 42.4, 42.6, 44.3, 42.1, 42.6, 42.1, 43.8, 42.6, 43.2, 43.8, 43.8, 44.1, 42.6, 43.8, 43.0, 45.5, 43.8, 43.5, 45.5, 46.4, 45.8, 45.8, 44.7, 43.9,
  48.6, 48.6, 47.1, 46.0, 46.9, 47.1, 48.0, 48.0, 48.0, 47.3, 47.1, 48.4, 48.4, 48.4, 47.5, 47.8, 47.8, 48.3, 49.2, 48.9, 49.2, 49.2, 50.1, 48.9, 49.4, 49.7, 49.5, 49.5, 50.5, 49.2, 51.4, 50.3, 50.3, 48.8, 48.9, 50.8, 49.9,
  49.9, 51.6, 51.4, 49.7, 50.3, 50.3, 49.5, 50.8, 51.4, 49.4, 51.6, 51.1, 50.8, 51.1, 49.7, 50.8, 52.5, 51.4, 50.1, 51.4, 51.4, 52.0, 50.5, 51.6, 51.4, 49.9, 51.6, 51.4, 51.1, 49.9, 50.3,
];
const predErvin = [
  47.0, 46.9, 47.5, 48.9, 47.8, 49.4, 46.9, 48.8, 48.3, 47.1, 47.5, 47.7, 48.8, 48.0, 48.0, 49.5, 46.4, 48.0, 48.9, 48.6, 48.3, 49.7, 48.6, 48.6, 48.0, 46.6, 49.2, 48.6, 49.2, 49.5, 49.7, 50.8, 52.9, 52.0, 51.6, 50.5, 49.7,
  53.6, 55.0, 53.6, 56.5, 57.2, 56.7, 58.7, 57.2, 57.0, 57.8, 58.1, 58.9, 58.7, 57.0, 59.3, 60.4, 58.1, 58.4, 59.3, 57.8, 58.4, 59.0, 58.9, 58.7, 58.1, 58.1, 58.4, 58.7, 60.6, 59.0, 60.4, 58.4, 59.8, 59.0, 57.2, 61.5, 59.5,
  64.0, 65.1, 65.1, 66.0, 65.8, 66.3, 64.6, 64.9, 66.6, 65.7, 67.3, 66.8, 66.0, 67.7, 66.3, 68.2, 66.8, 65.4, 66.2, 67.1, 66.9, 67.7, 66.6, 67.7, 68.8, 66.6, 68.2, 69.4, 67.9, 68.2, 68.0,
];
const alexisBandHigh = [
  71.0, 70.5, 70.0, 71.5, 70.5, 72.0, 70.0, 71.5, 71.0, 70.5, 70.8, 71.2, 71.8, 71.6, 72.2, 73.0, 71.8, 71.6, 70.5, 73.0, 71.6, 71.6, 72.7, 72.7, 73.8, 72.2, 72.7, 71.8, 74.6, 72.7, 71.6, 73.8, 73.6, 73.3, 72.7, 72.4, 71.6,
  75.5, 74.7, 73.3, 71.6, 72.2, 72.4, 72.5, 73.6, 73.6, 72.2, 71.8, 73.0, 73.0, 74.4, 72.2, 72.2, 73.3, 73.6, 73.9, 74.4, 74.6, 73.6, 74.7, 73.5, 74.1, 74.6, 74.2, 74.1, 73.9, 73.0, 74.4, 74.4, 73.9, 73.3, 74.4, 74.1, 73.9,
  73.8, 73.3, 73.0, 71.6, 72.4, 71.6, 72.2, 73.0, 72.7, 71.6, 72.7, 72.5, 73.0, 71.8, 71.6, 71.3, 73.8, 73.8, 71.6, 72.7, 72.4, 72.4, 71.3, 72.2, 71.8, 71.4, 71.4, 71.4, 71.0, 70.5, 70.5,
];
const alexisBandLow = [
  11.9, 10.4, 10.4, 13.5, 11.0, 13.5, 10.4, 13.2, 12.3, 11.9, 12.1, 12.1, 14.4, 13.0, 13.0, 15.2, 11.6, 13.5, 13.2, 14.1, 13.5, 14.9, 14.4, 14.4, 14.6, 12.3, 14.9, 13.5, 15.3, 14.9, 14.9, 17.4, 19.4, 18.3, 18.0, 16.8, 15.5,
  20.9, 22.2, 20.5, 20.0, 21.1, 21.1, 23.1, 22.2, 22.2, 22.0, 21.7, 23.6, 23.3, 22.2, 22.2, 24.5, 22.4, 23.6, 25.0, 22.8, 23.6, 24.1, 25.3, 23.7, 24.1, 24.5, 24.5, 24.5, 27.5, 24.1, 27.8, 25.0, 26.1, 24.2, 23.1, 29.2, 25.0,
  27.5, 29.9, 29.5, 27.8, 28.1, 28.1, 26.5, 28.4, 30.1, 27.8, 29.9, 29.5, 28.4, 30.1, 27.5, 29.9, 31.0, 29.2, 27.8, 29.5, 29.2, 30.6, 28.7, 30.6, 30.6, 27.8, 31.2, 31.2, 29.9, 29.5, 29.5,
];
const ervinBandHigh = [
  80.0, 79.5, 80.5, 81.0, 80.0, 82.0, 80.5, 81.0, 80.0, 80.5, 80.0, 79.5, 80.5, 80.0, 80.0, 80.8, 79.2, 80.0, 81.4, 80.4, 80.4, 81.4, 80.0, 80.2, 79.2, 78.3, 80.6, 80.8, 80.2, 81.1, 81.4, 81.1, 83.0, 81.9, 82.3, 81.7, 81.1,
  83.6, 84.0, 83.6, 87.5, 87.5, 86.5, 87.9, 87.5, 86.5, 88.1, 88.1, 88.1, 88.1, 86.5, 89.2, 90.5, 88.2, 88.1, 88.1, 87.7, 87.7, 88.1, 87.3, 88.1, 87.0, 87.0, 87.0, 87.0, 88.1, 87.7, 87.7, 86.4, 87.5, 87.5, 86.5, 88.1, 87.9,
  91.8, 92.0, 92.0, 94.0, 94.0, 94.3, 93.8, 93.3, 93.5, 93.7, 93.8, 93.8, 93.5, 94.3, 94.3, 94.6, 92.9, 92.7, 94.0, 93.5, 93.5, 93.3, 93.5, 93.7, 95.2, 94.3, 93.8, 94.8, 94.6, 94.9, 94.9,
];
const ervinBandLow = [
  14.4, 13.0, 13.5, 16.3, 14.0, 16.6, 13.5, 16.6, 15.2, 13.8, 14.6, 15.3, 16.8, 15.5, 15.5, 18.0, 13.8, 15.7, 15.7, 16.6, 15.7, 17.5, 16.8, 16.8, 16.6, 14.4, 17.5, 16.3, 17.7, 17.5, 18.0, 20.2, 22.6, 21.3, 21.1, 19.4, 18.3,
  23.6, 25.3, 23.6, 24.7, 26.1, 25.9, 28.7, 26.7, 26.7, 26.9, 27.3, 29.0, 29.2, 26.5, 28.1, 30.1, 27.3, 28.1, 30.1, 28.1, 28.4, 29.5, 30.4, 29.2, 29.0, 29.0, 29.2, 29.5, 33.1, 29.9, 33.4, 29.5, 31.4, 29.5, 27.3, 34.3, 30.3,
  35.1, 37.4, 37.6, 37.4, 38.7, 35.7, 36.8, 39.1, 36.8, 40.0, 39.3, 38.7, 37.9, 40.4, 37.4, 41.3, 40.4, 37.6, 37.6, 40.0, 40.0, 41.9, 39.1, 41.3, 42.1, 38.2, 41.9, 43.5, 41.0, 41.1, 41.1,
];

const fighters = [
  {
    name: 'ALEXIS DE LA CERDA',
    high: [alexisOver9, alexisOver19, alexisOver29, alexisOver39, alexisOver49, alexisOver59, alexisOver69, alexisOver79],
    low: [alexisOver9Low, alexisOver19Low, alexisOver29Low, alexisOver39Low, alexisOver49Low, alexisOver59Low, alexisOver69Low, alexisOver79Low],
  },
  {
    name: 'ERVIN FULLER',
    high: [ervinOver9, ervinOver19, ervinOver29, ervinOver39, ervinOver49, ervinOver59, ervinOver69, ervinOver79],
    low: [ervinOver9Low, ervinOver19Low, ervinOver29Low, ervinOver39Low, ervinOver49Low, ervinOver59Low, ervinOver69Low, ervinOver79Low],
  },
];

// ---- layout ----
const W = 2100;
const H = 1500;
const X0 = 92.4;
const X1 = 2077;
const FONT = "'DejaVu Sans', 'Liberation Sans', sans-serif";
const TICK = 7.3;
const x = d3.scaleLinear().domain([-25.5, 535.5]).range([X0, X1]);

const probPanels = [
  { top: 52, bottom: 519 },
  { top: 579, bottom: 1046 },
];
const countPanel = { top: 1107, bottom: 1418 };

function RoundMarkers({ top, bottom, skipLabel = [] as string[] }) {
  const h = bottom - top;
  return (
    <g>
      {roundStarts.map((t, i) => (
        <g key={t}>
          <line x1={x(t)} x2={x(t)} y1={top} y2={bottom} stroke="#555" strokeOpacity={0.75} strokeWidth={1.2} strokeDasharray="1.3,2.4" />
          {!skipLabel.includes(roundNames[i]) && (
            <text x={x(t) + 8.5} y={top + 0.03 * h + 13} fontSize={16.7} fill="#666" fontFamily={FONT}>
              {roundNames[i]}
            </text>
          )}
        </g>
      ))}
    </g>
  );
}

function XTicks({ bottom, labels }) {
  return (
    <g>
      {timeTicks.map((t) => (
        <g key={t}>
          <line x1={x(t)} x2={x(t)} y1={bottom} y2={bottom + TICK} stroke="#222" strokeWidth={1.4} />
          {labels && (
            <text x={x(t)} y={bottom + 27} fontSize={14.6} textAnchor="middle" fontFamily={FONT} fill="#111">
              {t}
            </text>
          )}
        </g>
      ))}
    </g>
  );
}

function ProbPanel({ fighter, top, bottom }) {
  const y = d3.scaleLinear().domain([0, 1.15]).range([bottom, top]);
  const line = d3
    .line<number>()
    .defined((v) => v != null)
    .x((_, i) => x(times[i]))
    .y((v) => y(v / 100));
  const band = (low: number[]) =>
    d3
      .area<number>()
      .defined((v, i) => v != null && low[i] != null)
      .x((_, i) => x(times[i]))
      .y0((_, i) => y(low[i] / 100))
      .y1((v) => y(v / 100));

  const legendX = 1606.7;
  const legendY = top + 5.3;
  const mid = (top + bottom) / 2;

  return (
    <g>
      {probTicks.map((v) => (
        <line key={v} x1={X0} x2={X1} y1={y(v)} y2={y(v)} stroke="#e3e3e3" strokeWidth={1.1} />
      ))}
      <RoundMarkers top={top} bottom={bottom} />
      {fighter.high.map((hi, k) => (
        <g key={k}>
          <path d={band(fighter.low[k])(hi) || ''} fill={lineColors[k]} fillOpacity={0.085} stroke="none" />
          <path d={line(hi) || ''} fill="none" stroke={lineColors[k]} strokeOpacity={0.85} strokeWidth={2.4} strokeLinejoin="round" />
          <path d={line(fighter.low[k]) || ''} fill="none" stroke={lineColors[k]} strokeOpacity={0.7} strokeWidth={1.7} strokeDasharray="1.7,2.8" />
        </g>
      ))}
      <rect x={X0} y={top} width={X1 - X0} height={bottom - top} fill="none" stroke="#222" strokeWidth={1.8} />
      {probTicks.map((v) => (
        <g key={v}>
          <line x1={X0 - TICK} x2={X0} y1={y(v)} y2={y(v)} stroke="#222" strokeWidth={1.4} />
          <text x={X0 - TICK - 7.3} y={y(v)} dy="0.35em" fontSize={14.6} textAnchor="end" fontFamily={FONT} fill="#111">
            {d3.format('.2f')(v)}
          </text>
        </g>
      ))}
      <XTicks bottom={bottom} labels={false} />
      <text transform={`translate(29.5,${mid}) rotate(-90)`} fontSize={14.6} textAnchor="middle" dy="0.35em" fontFamily={FONT} fill="#111">
        Prob
      </text>
      <text x={(X0 + X1) / 2} y={top - 12.5} fontSize={20.8} textAnchor="middle" fontFamily={FONT} fill="#111">
        {`${fighter.name} — Total Strikes Attempted R8 Over Full Fight (Event 16248)`}
      </text>
      <g>
        <rect x={legendX} y={legendY} width={424.6} height={42.7} rx={3.5} fill="#fff" fillOpacity={0.8} stroke="#cfcfcf" strokeWidth={1.3} />
        {lineLabels.map((lab, k) => {
          const col = Math.floor(k / 2);
          const row = k % 2;
          const hx = legendX + 4.9 + col * 109.6;
          const hy = legendY + 11 + row * 19.4;
          return (
            <g key={lab}>
              <line x1={hx} x2={hx + 24} y1={hy} y2={hy} stroke={lineColors[k]} strokeOpacity={0.85} strokeWidth={2.4} />
              <text x={hx + 32.7} y={hy} dy="0.35em" fontSize={11.5} fontFamily={FONT} fill="#111">
                {lab}
              </text>
            </g>
          );
        })}
      </g>
    </g>
  );
}

function CountPanel() {
  const { top, bottom } = countPanel;
  const y = d3.scaleLinear().domain([-4.6, 100]).range([bottom, top]);
  const line = d3
    .line<number>()
    .x((_, i) => x(times[i]))
    .y((v) => y(v));
  const band = (low: number[]) =>
    d3
      .area<number>()
      .x((_, i) => x(times[i]))
      .y0((_, i) => y(low[i]))
      .y1((v) => y(v));
  const mid = (top + bottom) / 2;

  const legendItems = [
    { label: 'Truth ALEXIS DE LA CERDA: 52', color: '#ff0000', dotted: false },
    { label: 'Truth ERVIN FULLER: 72', color: '#0000ff', dotted: false },
    { label: 'Predicted ALEXIS DE LA CERDA: 40.9', color: '#ff0000', dotted: true },
    { label: 'Predicted ERVIN FULLER: 47.0', color: '#0000ff', dotted: true },
  ];

  return (
    <g>
      {countMinorTicks
        .filter((v) => !countTicks.includes(v))
        .map((v) => (
          <line key={v} x1={X0} x2={X1} y1={y(v)} y2={y(v)} stroke="#ececec" strokeWidth={1} />
        ))}
      {countTicks.map((v) => (
        <line key={v} x1={X0} x2={X1} y1={y(v)} y2={y(v)} stroke="#d4d4d4" strokeWidth={1.1} />
      ))}
      <RoundMarkers top={top} bottom={bottom} skipLabel={['R1']} />

      <path d={band(alexisBandLow)(alexisBandHigh) || ''} fill="#ff0000" fillOpacity={0.135} stroke="#ff0000" strokeOpacity={0.13} strokeWidth={1.4} />
      <path d={band(ervinBandLow)(ervinBandHigh) || ''} fill="#0000ff" fillOpacity={0.135} stroke="#0000ff" strokeOpacity={0.13} strokeWidth={1.4} />

      <path d={line(truthAlexis) || ''} fill="none" stroke="#ff0000" strokeOpacity={0.75} strokeWidth={3.6} strokeLinejoin="round" />
      <path d={line(truthErvin) || ''} fill="none" stroke="#0000ff" strokeOpacity={0.75} strokeWidth={3.6} strokeLinejoin="round" />
      <path d={line(predAlexis) || ''} fill="none" stroke="#ff0000" strokeOpacity={0.6} strokeWidth={3.1} strokeDasharray="3.1,5.1" />
      <path d={line(predErvin) || ''} fill="none" stroke="#0000ff" strokeOpacity={0.6} strokeWidth={3.1} strokeDasharray="3.1,5.1" />

      <rect x={X0} y={top} width={X1 - X0} height={bottom - top} fill="none" stroke="#222" strokeWidth={1.8} />
      {countTicks.map((v) => (
        <g key={v}>
          <line x1={X0 - TICK} x2={X0} y1={y(v)} y2={y(v)} stroke="#222" strokeWidth={1.4} />
          <text x={X0 - TICK - 7.3} y={y(v)} dy="0.35em" fontSize={14.6} textAnchor="end" fontFamily={FONT} fill="#111">
            {v}
          </text>
        </g>
      ))}
      <XTicks bottom={bottom} labels />
      <text transform={`translate(32,${mid}) rotate(-90)`} fontSize={14.6} textAnchor="middle" dy="0.35em" fontFamily={FONT} fill="#111">
        Count
      </text>
      <text x={(X0 + X1) / 2} y={1472} fontSize={20.8} textAnchor="middle" fontFamily={FONT} fill="#111">
        Fight time (seconds)
      </text>

      <g>
        <rect x={100} y={1114.3} width={321.7} height={92.4} rx={3.5} fill="#fff" fillOpacity={0.8} stroke="#cfcfcf" strokeWidth={1.3} />
        {legendItems.map((it, k) => {
          const ly = 1126.7 + k * 22;
          return (
            <g key={it.label}>
              <line
                x1={105}
                x2={137}
                y1={ly}
                y2={ly}
                stroke={it.color}
                strokeOpacity={it.dotted ? 0.6 : 0.75}
                strokeWidth={it.dotted ? 3.1 : 3.6}
                strokeDasharray={it.dotted ? '3.1,5.1' : undefined}
              />
              <text x={147} y={ly} dy="0.35em" fontSize={14.6} fontFamily={FONT} fill="#111">
                {it.label}
              </text>
            </g>
          );
        })}
      </g>
    </g>
  );
}

export default function App() {
  return (
    <svg
      width={W}
      height={H}
      viewBox={`0 0 ${W} ${H}`}
      style={{ position: 'absolute', left: 0, top: 0, background: '#fff' }}
    >
      <rect x={0} y={0} width={W} height={H} fill="#fff" />
      {fighters.map((f, i) => (
        <ProbPanel key={f.name} fighter={f} top={probPanels[i].top} bottom={probPanels[i].bottom} />
      ))}
      <CountPanel />
    </svg>
  );
}
